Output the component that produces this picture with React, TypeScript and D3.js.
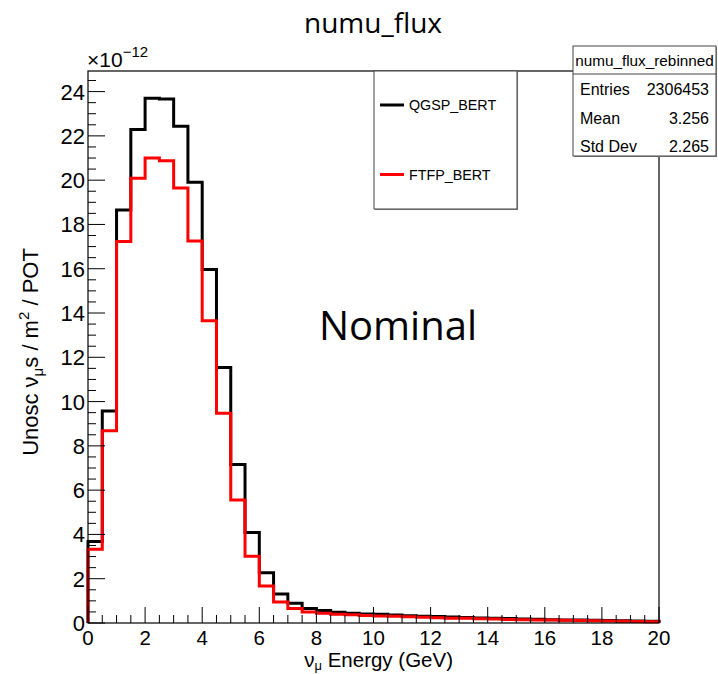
import React, { useEffect, useRef } from 'react';
import * as d3 from 'd3';

// bin edges: 0..20 GeV, 0.5 GeV wide
const binEdges: number[] = d3.range(0, 20.0001, 0.5);

// flux in units of 1e-12
const qgspBert = [3.68, 9.58, 18.65, 22.29, 23.70, 23.67, 22.44, 19.90, 15.97, 11.54, 7.16, 4.09, 2.27, 1.31, 0.89, 0.65, 0.56, 0.48, 0.44, 0.41, 0.39, 0.36, 0.33, 0.31, 0.29, 0.27, 0.25, 0.23, 0.21, 0.20, 0.18, 0.17, 0.15, 0.14, 0.13, 0.12, 0.11, 0.10, 0.09, 0.08];
const ftfpBert = [3.33, 8.68, 17.23, 20.09, 21.00, 20.88, 19.65, 17.25, 13.65, 9.47, 5.55, 3.02, 1.67, 0.95, 0.66, 0.50, 0.44, 0.40, 0.37, 0.34, 0.32, 0.30, 0.28, 0.26, 0.24, 0.22, 0.21, 0.19, 0.18, 0.16, 0.15, 0.14, 0.13, 0.12, 0.11, 0.10, 0.09, 0.08, 0.07, 0.06];

const seriesNames = ['QGSP_BERT', 'FTFP_BERT'];
const seriesColors = ['#000000', '#ff0000'];

const statsLabels = ['Entries', 'Mean', 'Std Dev'];
const statsValues = ['2306453', '3.256', '2.265'];

const xTicks = [0, 2, 4, 6, 8, 10, 12, 14, 16, 18, 20];
const yTicks = [0, 2, 4, 6, 8, 10, 12, 14, 16, 18, 20, 22, 24];

const FONT = '"Liberation Sans", Arial, Helvetica, sans-serif';
const FONT2 = '"Open Sans", "Noto Sans", sans-serif';

export default function App() {
  const svgRef = useRef<SVGSVGElement>(null);

  useEffect(() => {
    const svg = d3.select(svgRef.current);
    svg.selectAll('*').remove();

    const width = 718;
    const height = 674;
    const frame = { left: 88, right: 659, top: 71, bottom: 623 };

    svg.attr('width', width).attr('height', height);
    svg.append('rect').attr('width', width).attr('height', height).attr('fill', '#fff');

    const x = d3.scaleLinear().domain([0, 20]).range([frame.left, frame.right]);
    const y = d3.scaleLinear().domain([0, 24.93]).range([frame.bottom, frame.top]);

    // histograms as step lines
    const series = [qgspBert, ftfpBert];
    series.forEach((vals, i) => {
      const pts: [number, number][] = [[x(binEdges[0]), y(0)]];
      vals.forEach((v, j) => {
        pts.push([x(binEdges[j]), y(v)]);
        pts.push([x(binEdges[j + 1]), y(v)]);
      });
      pts.push([x(binEdges[binEdges.length - 1]), y(0)]);
      svg.append('path')
        .attr('d', d3.line()(pts))
        .attr('fill', 'none')
        .attr('stroke', seriesColors[i])
        .attr('stroke-width', 3);
    });

    // frame
    svg.append('rect')
      .attr('x', frame.left).attr('y', frame.top)
      .attr('width', frame.right - frame.left).attr('height', frame.bottom - frame.top)
      .attr('fill', 'none').attr('stroke', '#000').attr('stroke-width', 1.2);

    // x ticks
    const xMinor = d3.range(0, 20.0001, 0.5);
    svg.append('g').selectAll('line').data(xMinor).enter().append('line')
      .attr('x1', (d) => x(d)).attr('x2', (d) => x(d))
      .attr('y1', frame.bottom)
      .attr('y2', (d) => frame.bottom - (d % 2 === 0 ? 16 : 8))
      .attr('stroke', '#000').attr('stroke-width', 1);
    svg.append('g').selectAll('text').data(xTicks).enter().append('text')
      .attr('x', (d) => x(d)).attr('y', 645)
      .attr('text-anchor', 'middle')
      .style('font-family', FONT).style('font-size', '20.5px')
      .text((d) => d);

    // y ticks
    const yMinor = d3.range(0, 24.9, 0.5);
    svg.append('g').selectAll('line').data(yMinor).enter().append('line')
      .attr('x1', frame.left)
      .attr('x2', (d) => frame.left + (d % 2 === 0 ? 17 : 8))
      .attr('y1', (d) => y(d)).attr('y2', (d) => y(d))
      .attr('stroke', '#000').attr('stroke-width', 1);
    svg.append('g').selectAll('text').data(yTicks).enter().append('text')
      .attr('x', 85).attr('y', (d) => y(d) + 8)
      .attr('text-anchor', 'end')
      .style('font-family', FONT).style('font-size', '22px')
      .text((d) => d);

    // exponent
    const expo = svg.append('text').attr('x', 87).attr('y', 67)
      .style('font-family', FONT).style('font-size', '21px');
    expo.append('tspan').text('\u00d710');
    expo.append('tspan').attr('dy', -10).style('font-size', '15px').text('\u221212');

    // title
    svg.append('text').attr('x', 373).attr('y', 33)
      .attr('text-anchor', 'middle')
      .style('font-family', FONT2).style('font-size', '28px')
      .text('numu_flux');

    // axis titles
    const xl = svg.append('text').attr('x', 453).attr('y', 667)
      .attr('text-anchor', 'end')
      .style('font-family', FONT).style('font-size', '20.5px');
    xl.append('tspan').text('\u03bd');
    xl.append('tspan').attr('dy', 3).style('font-size', '13px').text('\u03bc');
    xl.append('tspan').attr('dy', -3).text(' Energy (GeV)');

    const yl = svg.append('text')
      .attr('transform', 'translate(38,352) rotate(-90)')
      .attr('text-anchor', 'middle')
      .style('font-family', FONT).style('font-size', '22px');
    yl.append('tspan').text('Unosc \u03bd');
    yl.append('tspan').attr('dy', 5).style('font-size', '15px').text('\u03bc');
    yl.append('tspan').attr('dy', -5).text('s / m');
    yl.append('tspan').attr('dy', -9).style('font-size', '15px').text('2');
    yl.append('tspan').attr('dy', 9).text(' / POT');

    // Nominal label
    svg.append('text').attr('x', 398).attr('y', 340)
      .attr('text-anchor', 'middle')
      .style('font-family', FONT2).style('font-size', '40px')
      .text('Nominal');

    // legend
    const leg = { x: 374, y: 71, w: 143, h: 138 };
    svg.append('rect').attr('x', leg.x + 1).attr('y', leg.y + 1).attr('width', leg.w).attr('height', leg.h)
      .attr('fill', '#888');
    svg.append('rect').attr('x', leg.x).attr('y', leg.y).attr('width', leg.w).attr('height', leg.h)
      .attr('fill', '#fff').attr('stroke', '#444').attr('stroke-width', 1);
    seriesNames.forEach((name, i) => {
      const ly = 105 + i * 69.5;
      svg.append('line').attr('x1', 380).attr('x2', 404).attr('y1', ly).attr('y2', ly)
        .attr('stroke', seriesColors[i]).attr('stroke-width', 3);
      svg.append('text').attr('x', 409).attr('y', ly + 5)
        .style('font-family', FONT).style('font-size', '14.3px')
        .text(name);
    });

    // stats box
    const st = { x: 573, y: 46, w: 143, h: 110 };
    svg.append('rect').attr('x', st.x + 1).attr('y', st.y + 1).attr('width', st.w).attr('height', st.h)
      .attr('fill', '#888');
    svg.append('rect').attr('x', st.x).attr('y', st.y).attr('width', st.w).attr('height', st.h)
      .attr('fill', '#fff').attr('stroke', '#444').attr('stroke-width', 1);
    svg.append('line').attr('x1', st.x).attr('x2', st.x + st.w).attr('y1', 74).attr('y2', 74)
      .attr('stroke', '#444').attr('stroke-width', 1);
    svg.append('text').attr('x', st.x + st.w / 2).attr('y', 66)
      .attr('text-anchor', 'middle')
      .style('font-family', FONT).style('font-size', '15.3px')
      .text('numu_flux_rebinned');
    statsLabels.forEach((lab, i) => {
      const ty = 95 + i * 28.5;
      svg.append('text').attr('x', 580).attr('y', ty)
        .style('font-family', FONT).style('font-size', '16px')
        .text(lab);
      svg.append('text').attr('x', 709).attr('y', ty)
        .attr('text-anchor', 'end')
        .style('font-family', FONT).style('font-size', '16px')
        .text(statsValues[i]);
    });
  }, []);

  return <svg ref={svgRef} style={{ display: 'block', position: 'fixed', left: 0, top: 0 }} />;
}
